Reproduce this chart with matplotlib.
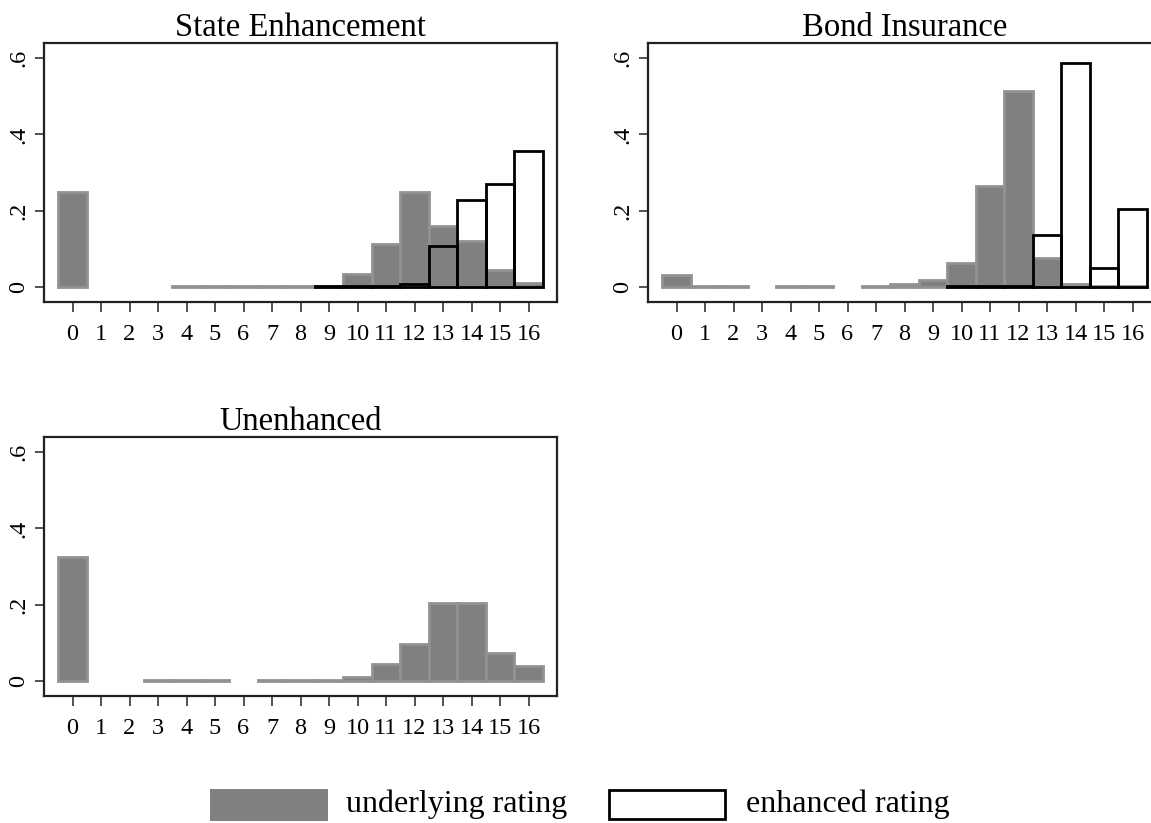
import numpy as np
import matplotlib
matplotlib.use("Agg")
import matplotlib.pyplot as plt
from matplotlib.patches import Rectangle

plt.rcParams['font.family'] = ['Liberation Serif', 'DejaVu Serif']

ratings = np.arange(17)

# share of issues at each rating notch
state_underlying = [0.248, 0, 0, 0, 0.002, 0.002, 0.002, 0.002, 0.001, 0.003,
                    0.033, 0.111, 0.248, 0.160, 0.119, 0.045, 0.010]
state_enhanced = [0, 0, 0, 0, 0, 0, 0, 0, 0, 0.002,
                  0.001, 0.003, 0.008, 0.108, 0.228, 0.271, 0.357]

bond_underlying = [0.030, 0.002, 0.002, 0, 0.002, 0.002, 0, 0.002, 0.006, 0.017,
                   0.062, 0.265, 0.515, 0.076, 0.006, 0.001, 0.001]
bond_enhanced = [0, 0, 0, 0, 0, 0, 0, 0, 0, 0,
                 0.002, 0.002, 0.002, 0.137, 0.587, 0.048, 0.204]

unenh_underlying = [0.326, 0, 0, 0.002, 0.002, 0.002, 0, 0.002, 0.002, 0.002,
                    0.0096, 0.043, 0.097, 0.205, 0.203, 0.074, 0.038]

panels = [
    ("State Enhancement", state_underlying, state_enhanced),
    ("Bond Insurance", bond_underlying, bond_enhanced),
    ("Unenhanced", unenh_underlying, None),
]

GRAY = '#808080'
W, H = 1151, 823
fig = plt.figure(figsize=(W / 100, H / 100), dpi=100)

# axes boxes in pixels: left, top, width, height
boxes = [(44, 43, 513, 259), (648, 43, 513, 259), (44, 437, 513, 259)]


def nonzero(vals):
    vals = np.asarray(vals, dtype=float)
    keep = vals > 0
    return ratings[keep], vals[keep]


for (title, under, enh), (l, t, w, h) in zip(panels, boxes):
    ax = fig.add_axes([l / W, 1 - (t + h) / H, w / W, h / H])
    ux, uy = nonzero(under)
    if enh is not None:
        ex, ey = nonzero(enh)
        # white fill first, gray bars over it, then the black outlines on top
        ax.bar(ex, ey, width=1.0, color='white', edgecolor='none', zorder=1)
    ax.bar(ux, uy, width=1.0, color=GRAY, edgecolor='#929292',
           linewidth=2.0, zorder=2)
    if enh is not None:
        ax.bar(ex, ey, width=1.0, fill=False, edgecolor='black',
               linewidth=2.0, zorder=3)
    ax.set_xlim(-1, 17)
    ax.set_ylim(-0.04, 0.64)
    ax.set_xticks(ratings)
    ax.set_xticklabels([str(r) for r in ratings])
    ax.set_yticks([0, 0.2, 0.4, 0.6])
    ax.set_yticklabels(['0', '.2', '.4', '.6'], rotation=90, va='center')
    ax.tick_params(axis='x', direction='out', length=7, width=1.2,
                   labelsize=17.5, pad=9, color='#333333')
    ax.tick_params(axis='y', direction='out', length=6.5, width=1.2,
                   labelsize=17.5, pad=4, color='#333333')
    for sp in ax.spines.values():
        sp.set_linewidth(1.6)
        sp.set_color('#222222')
    ax.set_title(title, fontsize=23.5, pad=5)

# shared legend along the bottom
lax = fig.add_axes([0, 0, 1, 1], facecolor='none')
lax.set_xlim(0, W)
lax.set_ylim(H, 0)
lax.axis('off')
lax.add_patch(Rectangle((210, 789), 118, 32, facecolor=GRAY, edgecolor='none'))
lax.text(346, 804, "underlying rating", fontsize=23, va='center', ha='left')
lax.add_patch(Rectangle((609, 790), 116, 29, facecolor='white',
                        edgecolor='black', linewidth=2))
lax.text(746, 804, "enhanced rating", fontsize=23, va='center', ha='left')

fig.savefig('out.png', dpi=100, facecolor='white')
